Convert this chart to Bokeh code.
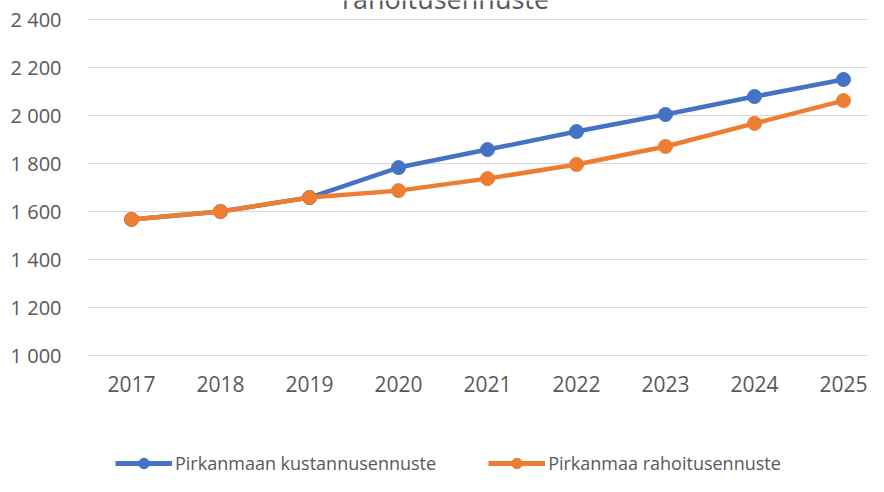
from bokeh.plotting import figure
from bokeh.models import Range1d, FixedTicker, Legend, LegendItem, Label
from bokeh.embed import file_html
from bokeh.resources import INLINE

years = [2017, 2018, 2019, 2020, 2021, 2022, 2023, 2024, 2025]
kustannus = [1567, 1600, 1658, 1783, 1858, 1933, 2004, 2079, 2150]
rahoitus = [1567, 1600, 1658, 1687, 1737, 1796, 1871, 1967, 2062]
y_ticks = [1000, 1200, 1400, 1600, 1800, 2000, 2200, 2400]
y_tick_labels = ["1 000", "1 200", "1 400", "1 600", "1 800", "2 000", "2 200", "2 400"]
series_names = ["Pirkanmaan kustannusennuste", "Pirkanmaa rahoitusennuste"]
title_text = "rahoitusennuste"

BLUE = "#4472C4"
ORANGE = "#ED7D31"
GREY = "#595959"
FONT = "Open Sans"

W, H = 868, 476
LEFT = 87
PX_PER_UNIT = 0.24
Y_AT_1000 = 355  # pixel row (from figure top) of the 1 000 gridline
y_start = 1000 - (H - Y_AT_1000) / PX_PER_UNIT
y_end = y_start + H / PX_PER_UNIT
x_start = 2017 - 44 / 89
p = figure(width=W, height=H, output_backend="svg", toolbar_location=None,
           x_range=Range1d(x_start, x_start + (W - LEFT) / 89),
           y_range=Range1d(y_start, y_end),
           min_border_left=LEFT, min_border_right=0, min_border_top=0,
           min_border_bottom=0)
p.outline_line_color = None
p.background_fill_color = "white"

p.xgrid.grid_line_color = None
p.ygrid.grid_line_color = "#D9D9D9"
p.ygrid.grid_line_width = 1
p.ygrid.ticker = FixedTicker(ticks=y_ticks)

p.yaxis.ticker = FixedTicker(ticks=y_ticks)
p.yaxis.major_label_overrides = {t: l for t, l in zip(y_ticks, y_tick_labels)}
p.xaxis.ticker = FixedTicker(ticks=years)
p.xaxis.major_label_overrides = {y: str(y) for y in years}
p.xaxis.fixed_location = 1000 - 2 / PX_PER_UNIT
for ax in (p.xaxis, p.yaxis):
    ax.axis_line_color = None
    ax.major_tick_line_color = None
    ax.minor_tick_line_color = None
    ax.major_label_text_color = GREY
    ax.major_label_text_font = FONT
p.xaxis.major_label_text_font_size = "21px"
p.yaxis.major_label_text_font_size = "20px"
p.xaxis.major_label_standoff = 12
p.yaxis.major_label_standoff = 20

for vals, col in ((kustannus, BLUE), (rahoitus, ORANGE)):
    p.line(years, vals, line_color=col, line_width=4.5)
    p.scatter(years, vals, size=14, fill_color=col, line_color=col)

nan = float("nan")
legend_items = []
for name, col in zip(series_names, (BLUE, ORANGE)):
    lr = p.line(x=[nan], y=[nan], line_color=col, line_width=5)
    sr = p.scatter(x=[nan], y=[nan], size=11, fill_color=col, line_color=col)
    legend_items.append(LegendItem(label=name, renderers=[lr, sr]))

legend = Legend(items=legend_items, location=(28, 0), orientation="horizontal",
                glyph_width=57, glyph_height=26, label_height=26, label_standoff=3,
                spacing=52, padding=0, margin=0, border_line_color=None,
                background_fill_alpha=0, label_text_font=FONT,
                label_text_font_size="18px", label_text_color=GREY)
p.add_layout(legend, "center")

title = Label(x=358, y=H + 2, x_units="screen", y_units="screen", text=title_text,
              text_align="center", text_baseline="alphabetic", text_font=FONT,
              text_font_size="27px", text_color=GREY)
p.add_layout(title)

open("out.html", "w").write(file_html(p, INLINE))
